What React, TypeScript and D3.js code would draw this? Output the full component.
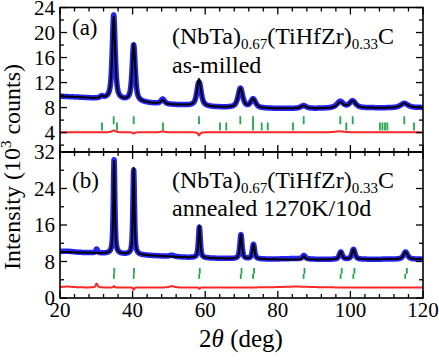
import React from "react";
import * as d3 from "d3";

// ---------- data ----------
// Panel (a) as-milled: background points (2θ, 10^3 counts)
const bgA_x = [20, 25, 30, 33, 45, 50, 55, 62, 70, 80, 90, 95, 105, 110, 120];
const bgA_y = [9.8, 9.65, 9.45, 9.35, 8.7, 8.5, 8.35, 8.1, 7.95, 7.85, 7.85, 7.9, 7.95, 7.95, 8.0];
// Panel (a) fitted peaks
const peakA_pos = [31.5, 34.8, 40.3, 48.3, 58.3, 69.7, 73.2, 87.1, 97.2, 100.6, 114.85];
const peakA_h = [0.3, 13.2, 9.2, 0.6, 4.3, 3.1, 1.4, 0.45, 0.9, 1.1, 0.7];
const peakA_w = [1.0, 0.95, 1.0, 1.2, 1.3, 1.5, 1.6, 1.8, 2.0, 2.0, 2.4];
// Panel (a) misfit (observed - calculated) features
const misA_pos = [34.8, 40.3, 48.3, 58.3, 97.0];
const misA_h = [0.3, -0.2, 0.15, -0.5, 0.15];
const misA_w = [1.2, 0.6, 1.2, 0.6, 3];
const diffA_offset = 4.05;
// Panel (a) Bragg reflections: main phase and second phase
const braggA1 = [34.79, 40.3, 58.29, 69.67, 73.17, 87.13, 97.22, 100.63, 114.85];
const braggA2 = [31.57, 35.7, 48.37, 64.08, 65.81, 73.17, 75.56, 77.22, 84.19, 98.87, 108.15, 108.84, 109.53, 110.17, 117.52];

// Panel (b) annealed
const bgB_x = [20, 30, 40, 50, 55, 60, 70, 80, 90, 100, 110, 120];
const bgB_y = [10.1, 9.85, 9.5, 9.1, 8.9, 8.75, 8.55, 8.45, 8.4, 8.45, 8.5, 8.5];
const peakB_pos = [34.9, 40.3, 58.4, 69.85, 73.3, 87.2, 97.35, 100.85, 115.2];
const peakB_h = [20.3, 19.0, 7.0, 5.3, 3.2, 0.75, 1.6, 2.2, 1.6];
const peakB_w = [0.5, 0.5, 0.6, 0.7, 0.75, 0.9, 1.0, 1.0, 1.3];
const misB_pos = [22.0, 30.1, 34.9, 40.3, 50.8, 58.4, 85.0];
const misB_h = [0.2, 0.85, 0.3, -0.5, 0.3, -0.3, 0.2];
const misB_w = [4, 0.6, 0.4, 0.4, 1.5, 0.4, 10];
const diffB_offset = 2.3;
const braggB1 = [34.85, 40.3, 58.35, 69.8, 73.2, 87.1, 97.3, 100.8, 115.1];
const braggB2 = [34.95, 40.4, 58.5, 70.0, 73.45, 87.35, 97.6, 101.1, 115.55];

// axes tick values
const xMajor = [20, 40, 60, 80, 100, 120];
const xMinor = [24, 28, 32, 36, 44, 48, 52, 56, 64, 68, 72, 76, 84, 88, 92, 96, 104, 108, 112, 116];
const yA_major = [4, 8, 12, 16, 20, 24];
const yA_minor = [2, 6, 10, 14, 18, 22];
const yB_major = [0, 8, 16, 24, 32];
const yB_minor = [4, 12, 20, 28];

// ---------- helpers ----------
function pv(t: number, x0: number, h: number, w: number) {
  const u = (t - x0) / (w / 2);
  const eta = 0.7;
  return h * (eta / (1 + u * u) + (1 - eta) * Math.exp(-Math.LN2 * u * u));
}
function sumPeaks(t: number, pos: number[], h: number[], w: number[]) {
  let s = 0;
  for (let i = 0; i < pos.length; i++) s += pv(t, pos[i], h[i], w[i]);
  return s;
}

const grid = d3.range(20, 120.001, 0.02);

function buildPanel(bgx: number[], bgy: number[], pp: number[], ph: number[], pw: number[], mp: number[], mh: number[], mw: number[], off: number) {
  const bg = d3.scaleLinear().domain(bgx).range(bgy);
  const calc = grid.map((t) => [t, bg(t) + sumPeaks(t, pp, ph, pw)] as [number, number]);
  const obs = calc.map(([t, v]) => [t, v + sumPeaks(t, mp, mh, mw)] as [number, number]);
  const diff = grid.map((t) => [t, off + sumPeaks(t, mp, mh, mw)] as [number, number]);
  return { calc, obs, diff };
}

const BLUE = "#2626ee";
const RED = "#ff2626";
const GREEN = "#22a84a";
const CSS = `.ser { font-family: "Liberation Serif", "Times New Roman", Tinos, serif; }`;

export default function App() {
  const L = 60, R = 423, T = 7.5, M = 152, B = 298;
  const x = d3.scaleLinear().domain([20, 120]).range([L, R]);
  const yA = d3.scaleLinear().domain([0.9, 24]).range([M, T]);
  const yB = d3.scaleLinear().domain([0, 32]).range([B, M]);

  const A = buildPanel(bgA_x, bgA_y, peakA_pos, peakA_h, peakA_w, misA_pos, misA_h, misA_w, diffA_offset);
  const Bp = buildPanel(bgB_x, bgB_y, peakB_pos, peakB_h, peakB_w, misB_pos, misB_h, misB_w, diffB_offset);

  const lineA = d3.line<[number, number]>().x((d) => x(d[0])).y((d) => yA(d[1]));
  const lineB = d3.line<[number, number]>().x((d) => x(d[0])).y((d) => yB(d[1]));

  const majLen = 7, minLen = 4;

  const xTicks = (y0: number, dir: number, key: string) => (
    <g key={key}>
      {xMajor.map((v) => (
        <line key={"M" + v} x1={x(v)} x2={x(v)} y1={y0} y2={y0 + dir * majLen} stroke="#000" strokeWidth={1.3} />
      ))}
      {xMinor.map((v) => (
        <line key={"m" + v} x1={x(v)} x2={x(v)} y1={y0} y2={y0 + dir * minLen} stroke="#000" strokeWidth={1.3} />
      ))}
    </g>
  );
  const yTicks = (sc: d3.ScaleLinear<number, number>, maj: number[], min: number[], key: string) => (
    <g key={key}>
      {maj.map((v) => (
        <g key={"M" + v}>
          <line x1={L} x2={L + majLen} y1={sc(v)} y2={sc(v)} stroke="#000" strokeWidth={1.3} />
          <line x1={R} x2={R - majLen} y1={sc(v)} y2={sc(v)} stroke="#000" strokeWidth={1.3} />
        </g>
      ))}
      {min.map((v) => (
        <g key={"m" + v}>
          <line x1={L} x2={L + minLen} y1={sc(v)} y2={sc(v)} stroke="#000" strokeWidth={1.3} />
          <line x1={R} x2={R - minLen} y1={sc(v)} y2={sc(v)} stroke="#000" strokeWidth={1.3} />
        </g>
      ))}
    </g>
  );

  const F = "Liberation Serif";

  return (
    <svg width={439} height={362} style={{ position: "absolute", left: 0, top: 0, background: "#fff" }}>
      <style>{CSS}</style>
      <defs>
        <clipPath id="clipA"><rect x={L} y={T} width={R - L} height={M - T} /></clipPath>
        <clipPath id="clipB"><rect x={L} y={M} width={R - L} height={B - M} /></clipPath>
      </defs>

      {/* Panel A */}
      <g clipPath="url(#clipA)">
        <path d={lineA(A.obs) || ""} fill="none" stroke={BLUE} strokeWidth={5.5} strokeLinejoin="round" />
        <path d={lineA(A.calc) || ""} fill="none" stroke="#000" strokeWidth={2} strokeLinejoin="round" />
        <path d={lineA(A.diff) || ""} fill="none" stroke={RED} strokeWidth={2} />
        {braggA1.map((v, i) => (
          <line key={"a1" + i} x1={x(v)} x2={x(v)} y1={yA(6.6)} y2={yA(5.35)} stroke={GREEN} strokeWidth={1.8} />
        ))}
        {braggA2.map((v, i) => (
          <line key={"a2" + i} x1={x(v)} x2={x(v)} y1={yA(5.6)} y2={yA(4.35)} stroke={GREEN} strokeWidth={1.8} />
        ))}
      </g>

      {/* Panel B */}
      <g clipPath="url(#clipB)">
        <path d={lineB(Bp.obs) || ""} fill="none" stroke={BLUE} strokeWidth={5.5} strokeLinejoin="round" />
        <path d={lineB(Bp.calc) || ""} fill="none" stroke="#000" strokeWidth={2} strokeLinejoin="round" />
        <path d={lineB(Bp.diff) || ""} fill="none" stroke={RED} strokeWidth={2} />
        {braggB1.map((v, i) => (
          <line key={"b1" + i} x1={x(v)} x2={x(v)} y1={yB(5.3)} y2={yB(4.2)} stroke={GREEN} strokeWidth={1.8} />
        ))}
        {braggB2.map((v, i) => (
          <line key={"b2" + i} x1={x(v)} x2={x(v)} y1={yB(6.6)} y2={yB(5.3)} stroke={GREEN} strokeWidth={1.8} />
        ))}
      </g>

      {/* frames */}
      <rect x={L} y={T} width={R - L} height={M - T} fill="none" stroke="#000" strokeWidth={1.6} />
      <rect x={L} y={M} width={R - L} height={B - M} fill="none" stroke="#000" strokeWidth={1.6} />

      {xTicks(T, 1, "xt1")}
      {xTicks(M, -1, "xt2")}
      {xTicks(M, 1, "xt3")}
      {xTicks(B, -1, "xt4")}
      {yTicks(yA, yA_major, yA_minor, "yta")}
      {yTicks(yB, yB_major, yB_minor, "ytb")}

      {/* tick labels */}
      <g fontSize={21} fill="#000">
        {yA_major.map((v) => (
          <text key={"la" + v} className="ser" fontFamily={F} x={55} y={yA(v)} dy="0.34em" textAnchor="end">{String(v)}</text>
        ))}
        {yB_major.map((v) => (
          <text key={"lb" + v} className="ser" fontFamily={F} x={55} y={yB(v)} dy="0.34em" textAnchor="end">{String(v)}</text>
        ))}
        {xMajor.map((v) => (
          <text key={"lx" + v} className="ser" fontFamily={F} x={x(v)} y={317} textAnchor="middle">{String(v)}</text>
        ))}
      </g>

      {/* axis titles */}
      <text className="ser" fontFamily={F} x={241} y={347} fontSize={25} textAnchor="middle">
        2<tspan fontStyle="italic">θ</tspan> (deg)
      </text>
      <text className="ser" fontFamily={F} transform="translate(19.5,167) rotate(-90)" fontSize={24} textAnchor="middle">
        Intensity (10<tspan fontSize={15} dy={-9}>3</tspan><tspan dy={9}> counts)</tspan>
      </text>

      {/* annotations */}
      <text className="ser" fontFamily={F} x={72} y={35} fontSize={23}>(a)</text>
      <text className="ser" fontFamily={F} x={172} y={44} fontSize={24}>
        (NbTa)<tspan fontSize={15} dy={5}>0.67</tspan><tspan dy={-5}>(TiHfZr)</tspan><tspan fontSize={15} dy={5}>0.33</tspan><tspan dy={-5}>C</tspan>
      </text>
      <text className="ser" fontFamily={F} x={172} y={73} fontSize={24}>as-milled</text>

      <text className="ser" fontFamily={F} x={72} y={188} fontSize={23}>(b)</text>
      <text className="ser" fontFamily={F} x={172} y={188} fontSize={24}>
        (NbTa)<tspan fontSize={15} dy={5}>0.67</tspan><tspan dy={-5}>(TiHfZr)</tspan><tspan fontSize={15} dy={5}>0.33</tspan><tspan dy={-5}>C</tspan>
      </text>
      <text className="ser" fontFamily={F} x={172} y={216} fontSize={24}>annealed 1270K/10d</text>
    </svg>
  );
}
